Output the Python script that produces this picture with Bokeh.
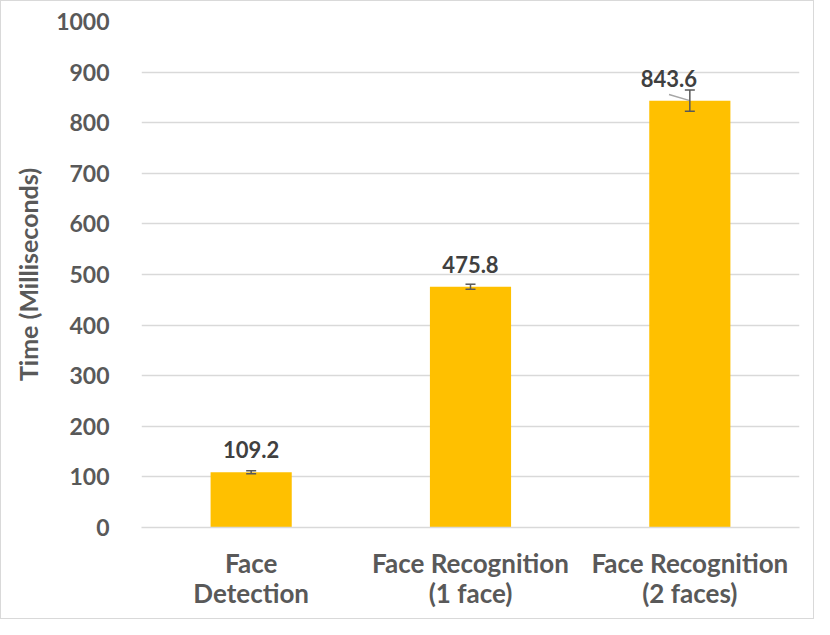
from bokeh.plotting import figure
from bokeh.models import FixedTicker, Range1d, Whisker, ColumnDataSource
from bokeh.core.properties import value
from bokeh.embed import file_html
from bokeh.resources import INLINE

categories = ["Face\nDetection", "Face Recognition\n(1 face)", "Face Recognition\n(2 faces)"]
times = [109.2, 475.8, 843.6]
errors = [3, 5, 21]
y_ticks = [0, 100, 200, 300, 400, 500, 600, 700, 800, 900, 1000]

FONT = "Lato"
xs = list(range(len(categories)))
src = ColumnDataSource(dict(
    x=xs, top=times,
    upper=[t + e for t, e in zip(times, errors)],
    lower=[t - e for t, e in zip(times, errors)],
))

p = figure(width=814, height=619, output_backend="svg", toolbar_location=None,
           x_range=Range1d(-0.5, len(categories) - 0.5), y_range=Range1d(0, 1000),
           min_border_left=140, min_border_right=16, min_border_top=20, min_border_bottom=93)
p.outline_line_color = None
p.styles = {"border": "1px solid #d9d9d9", "box-sizing": "border-box"}

p.vbar(x="x", top="top", width=0.37, source=src, fill_color="#FFC000", line_color=None)

w = Whisker(base="x", upper="upper", lower="lower", source=src,
            line_color="#595959", line_width=1.5, level="overlay")
for h in (w.upper_head, w.lower_head):
    h.size = 10
    h.line_color = "#595959"
    h.line_width = 1.5
p.add_layout(w)

# data labels (first two above bars, third moved left with a leader line)
lab_src = ColumnDataSource(dict(x=xs[:2], y=times[:2], label=[f"{t:.1f}" for t in times[:2]]))
p.text(x="x", y="y", text="label", source=lab_src, y_offset=-14,
       text_align="center", text_baseline="bottom", text_font=value(FONT),
       text_font_style="bold", text_font_size="22px", text_color="#404040")
p.text(x=[xs[2]], y=[times[2]], text=[f"{times[2]:.1f}"], x_offset=-21, y_offset=-14,
       text_align="center", text_baseline="bottom", text_font=value(FONT),
       text_font_style="bold", text_font_size="22px", text_color="#404040")
p.segment(x0=[xs[2] - 0.095], y0=[times[2] + 12], x1=[xs[2]], y1=[times[2]],
          line_color="#a6a6a6", line_width=1.5)

p.xgrid.visible = False
p.ygrid.grid_line_color = "#d9d9d9"
p.ygrid.grid_line_width = 1.5

p.yaxis.ticker = FixedTicker(ticks=y_ticks)
p.yaxis.axis_line_color = None
p.yaxis.major_tick_line_color = None
p.yaxis.minor_tick_line_color = None
p.yaxis.major_label_standoff = 26
p.yaxis.axis_label = "Time (Milliseconds)"
p.yaxis.axis_label_standoff = 10

p.xaxis.ticker = FixedTicker(ticks=xs)
p.xaxis.major_label_overrides = {i: c for i, c in zip(xs, categories)}
p.xaxis.axis_line_color = "#d9d9d9"
p.xaxis.axis_line_width = 1.5
p.xaxis.major_tick_line_color = None
p.xaxis.minor_tick_line_color = None
p.xaxis.major_label_standoff = 13
p.xaxis.major_label_text_line_height = 0.95

for ax in (p.xaxis[0], p.yaxis[0]):
    ax.major_label_text_font = FONT
    ax.major_label_text_font_style = "bold"
    ax.major_label_text_color = "#595959"
    ax.axis_label_text_font = FONT
    ax.axis_label_text_font_style = "bold"
    ax.axis_label_text_font_size = "25px"
    ax.axis_label_text_color = "#595959"
p.yaxis.major_label_text_font_size = "23px"
p.xaxis.major_label_text_font_size = "26px"

open("out.html", "w").write(file_html(p, INLINE))
